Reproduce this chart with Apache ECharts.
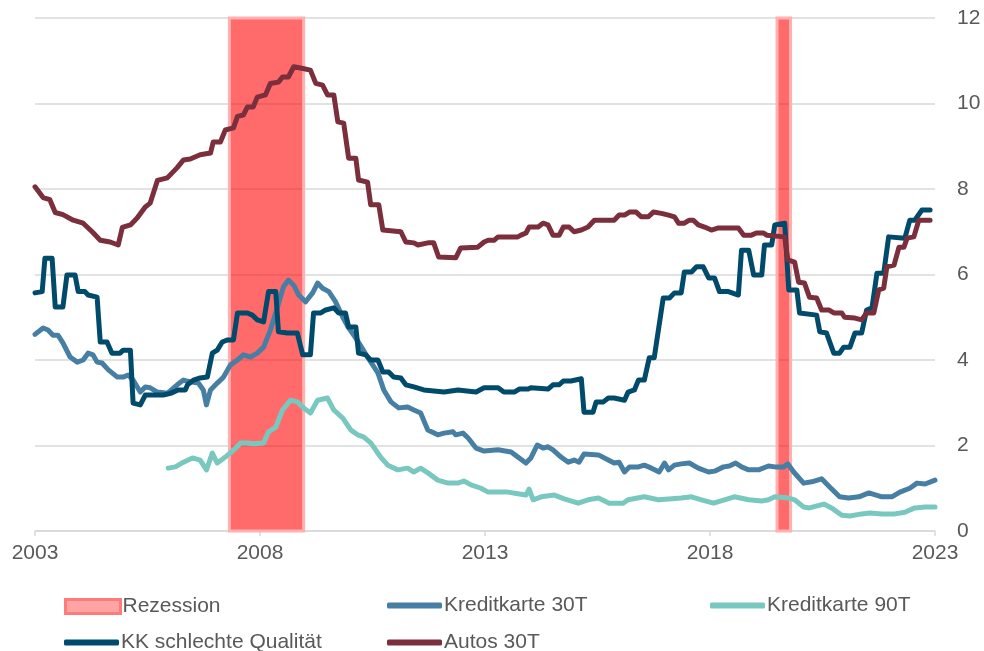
<!DOCTYPE html>
<html><head><meta charset="utf-8">
<script src="https://cdn.jsdelivr.net/npm/echarts@6/dist/echarts.min.js"></script>
<style>html,body{margin:0;padding:0;background:#fff}#c{width:984px;height:651px}</style>
</head><body><div id="c"></div>
<script>
// Recession periods (decimal years)
const recessions = [[2007.32, 2008.97], [2019.49, 2019.79]];
const xTicks = [2003, 2008, 2013, 2018, 2023];
const seriesNames = ['Rezession', 'Kreditkarte 30T', 'Kreditkarte 90T', 'KK schlechte Qualität', 'Autos 30T'];

const kk30 = [[2003.00,4.6],[2003.04,4.63],[2003.18,4.75],[2003.29,4.7],[2003.40,4.58],[2003.51,4.58],[2003.62,4.4],[2003.78,4.07],[2003.94,3.95],[2004.07,4.0],[2004.18,4.16],[2004.29,4.12],[2004.38,3.95],[2004.49,3.93],[2004.63,3.77],[2004.83,3.6],[2004.96,3.6],[2005.07,3.65],[2005.18,3.53],[2005.34,3.25],[2005.45,3.37],[2005.56,3.35],[2005.72,3.25],[2005.94,3.22],[2006.16,3.42],[2006.30,3.53],[2006.45,3.49],[2006.63,3.46],[2006.74,3.3],[2006.81,2.95],[2006.90,3.3],[2007.05,3.46],[2007.19,3.6],[2007.34,3.88],[2007.50,4.0],[2007.63,4.12],[2007.79,4.07],[2007.94,4.16],[2008.08,4.3],[2008.23,4.7],[2008.39,5.24],[2008.52,5.71],[2008.63,5.87],[2008.75,5.75],[2008.86,5.52],[2009.01,5.36],[2009.17,5.57],[2009.28,5.8],[2009.39,5.68],[2009.53,5.6],[2009.68,5.36],[2009.84,5.0],[2009.97,4.75],[2010.17,4.45],[2010.39,4.07],[2010.62,3.7],[2010.75,3.3],[2010.91,3.02],[2011.08,2.88],[2011.28,2.9],[2011.42,2.83],[2011.57,2.76],[2011.73,2.36],[2011.95,2.25],[2012.09,2.29],[2012.29,2.32],[2012.35,2.25],[2012.51,2.29],[2012.62,2.18],[2012.80,1.94],[2012.98,1.87],[2013.29,1.9],[2013.58,1.85],[2013.73,1.73],[2013.91,1.59],[2014.02,1.71],[2014.16,2.01],[2014.29,1.94],[2014.40,1.97],[2014.51,1.9],[2014.69,1.73],[2014.85,1.61],[2014.98,1.66],[2015.09,1.61],[2015.20,1.8],[2015.52,1.78],[2015.74,1.66],[2015.87,1.59],[2015.98,1.61],[2016.10,1.38],[2016.21,1.5],[2016.41,1.5],[2016.54,1.54],[2016.70,1.47],[2016.87,1.38],[2016.99,1.59],[2017.08,1.43],[2017.21,1.54],[2017.36,1.57],[2017.54,1.59],[2017.74,1.47],[2017.97,1.38],[2018.10,1.4],[2018.30,1.5],[2018.43,1.52],[2018.57,1.59],[2018.70,1.5],[2018.86,1.43],[2019.08,1.43],[2019.30,1.52],[2019.44,1.5],[2019.64,1.5],[2019.73,1.57],[2019.86,1.38],[2020.08,1.12],[2020.26,1.15],[2020.48,1.22],[2020.66,1.03],[2020.88,0.8],[2021.08,0.77],[2021.31,0.8],[2021.53,0.89],[2021.82,0.8],[2022.04,0.8],[2022.22,0.91],[2022.44,1.0],[2022.60,1.12],[2022.78,1.1],[2023.00,1.19]];

const kk90 = [[2005.96,1.47],[2006.12,1.5],[2006.30,1.61],[2006.50,1.71],[2006.67,1.66],[2006.81,1.43],[2006.94,1.82],[2007.05,1.59],[2007.23,1.73],[2007.41,1.89],[2007.57,2.06],[2007.72,2.06],[2007.85,2.04],[2008.08,2.06],[2008.19,2.32],[2008.35,2.43],[2008.50,2.83],[2008.68,3.06],[2008.83,3.02],[2008.97,2.88],[2009.12,2.76],[2009.28,3.06],[2009.50,3.11],[2009.64,2.83],[2009.84,2.64],[2010.02,2.36],[2010.17,2.25],[2010.30,2.2],[2010.46,2.06],[2010.68,1.73],[2010.84,1.54],[2011.06,1.43],[2011.28,1.47],[2011.42,1.38],[2011.57,1.47],[2011.73,1.36],[2011.95,1.19],[2012.18,1.12],[2012.40,1.12],[2012.53,1.17],[2012.69,1.08],[2012.91,1.0],[2013.07,0.91],[2013.51,0.91],[2013.73,0.87],[2013.91,0.84],[2013.98,0.98],[2014.07,0.73],[2014.25,0.8],[2014.54,0.84],[2014.76,0.75],[2015.07,0.65],[2015.29,0.73],[2015.52,0.77],[2015.76,0.65],[2016.07,0.65],[2016.18,0.73],[2016.54,0.8],[2016.85,0.73],[2017.08,0.75],[2017.36,0.77],[2017.59,0.8],[2017.81,0.73],[2018.08,0.65],[2018.32,0.73],[2018.54,0.8],[2018.86,0.73],[2019.15,0.7],[2019.30,0.73],[2019.44,0.8],[2019.75,0.77],[2019.88,0.73],[2020.08,0.56],[2020.21,0.54],[2020.53,0.63],[2020.70,0.54],[2020.93,0.37],[2021.11,0.35],[2021.37,0.4],[2021.55,0.42],[2021.82,0.4],[2022.11,0.4],[2022.33,0.44],[2022.55,0.54],[2022.78,0.56],[2023.00,0.56]];

const kkBad = [[2003.00,5.57],[2003.16,5.6],[2003.22,6.38],[2003.38,6.38],[2003.45,5.24],[2003.62,5.24],[2003.71,5.99],[2003.89,5.99],[2003.96,5.6],[2004.11,5.6],[2004.18,5.52],[2004.38,5.47],[2004.45,4.42],[2004.60,4.42],[2004.71,4.16],[2004.89,4.16],[2004.96,4.23],[2005.12,4.23],[2005.18,2.99],[2005.34,2.95],[2005.45,3.18],[2005.85,3.18],[2006.01,3.22],[2006.18,3.3],[2006.34,3.3],[2006.39,3.42],[2006.52,3.53],[2006.67,3.58],[2006.83,3.6],[2006.94,4.16],[2007.05,4.23],[2007.16,4.42],[2007.28,4.47],[2007.41,4.47],[2007.50,5.1],[2007.72,5.1],[2007.83,5.05],[2007.94,4.94],[2008.08,4.89],[2008.19,5.6],[2008.35,5.6],[2008.41,4.66],[2008.61,4.63],[2008.83,4.63],[2008.95,4.12],[2009.12,4.12],[2009.19,5.1],[2009.35,5.1],[2009.46,5.17],[2009.64,5.22],[2009.75,5.1],[2009.90,5.1],[2009.97,4.77],[2010.13,4.77],[2010.19,4.16],[2010.35,4.12],[2010.46,4.0],[2010.62,4.0],[2010.73,3.72],[2010.86,3.72],[2010.97,3.6],[2011.13,3.58],[2011.24,3.42],[2011.42,3.37],[2011.64,3.3],[2012.09,3.25],[2012.40,3.3],[2012.80,3.25],[2012.98,3.35],[2013.29,3.35],[2013.42,3.25],[2013.65,3.25],[2013.76,3.32],[2013.96,3.32],[2014.02,3.35],[2014.40,3.32],[2014.51,3.42],[2014.65,3.42],[2014.74,3.51],[2014.91,3.51],[2015.14,3.56],[2015.20,2.78],[2015.40,2.78],[2015.47,3.02],[2015.63,3.02],[2015.74,3.11],[2015.87,3.11],[2016.10,3.06],[2016.18,3.25],[2016.32,3.3],[2016.41,3.53],[2016.54,3.53],[2016.65,4.05],[2016.76,4.05],[2016.96,5.45],[2017.10,5.45],[2017.21,5.57],[2017.36,5.57],[2017.43,6.06],[2017.59,6.06],[2017.70,6.18],[2017.85,6.18],[2017.97,5.92],[2018.10,5.92],[2018.21,5.6],[2018.41,5.6],[2018.63,5.52],[2018.70,6.57],[2018.86,6.57],[2018.97,5.99],[2019.15,5.99],[2019.21,6.69],[2019.37,6.69],[2019.44,7.16],[2019.66,7.2],[2019.75,5.64],[2019.93,5.64],[2019.99,5.1],[2020.37,5.05],[2020.44,4.66],[2020.59,4.63],[2020.75,4.16],[2020.88,4.16],[2020.97,4.3],[2021.11,4.3],[2021.22,4.63],[2021.37,4.63],[2021.48,5.17],[2021.60,5.22],[2021.71,6.03],[2021.86,6.03],[2021.97,6.88],[2022.33,6.85],[2022.44,7.27],[2022.55,7.27],[2022.71,7.51],[2022.89,7.51]];

const autos30 = [[2003.00,8.05],[2003.04,8.02],[2003.18,7.8],[2003.33,7.75],[2003.45,7.45],[2003.62,7.4],[2003.85,7.27],[2004.07,7.2],[2004.27,7.0],[2004.45,6.8],[2004.67,6.76],[2004.85,6.69],[2004.94,7.1],[2005.12,7.16],[2005.27,7.32],[2005.45,7.58],[2005.56,7.67],[2005.72,8.2],[2005.94,8.26],[2006.16,8.5],[2006.30,8.68],[2006.45,8.7],[2006.67,8.8],[2006.90,8.84],[2006.96,9.1],[2007.12,9.1],[2007.23,9.38],[2007.41,9.43],[2007.50,9.7],[2007.63,9.73],[2007.72,9.92],[2007.85,9.92],[2007.94,10.15],[2008.12,10.2],[2008.23,10.47],[2008.41,10.5],[2008.50,10.62],[2008.63,10.62],[2008.75,10.86],[2008.90,10.83],[2009.12,10.78],[2009.24,10.47],[2009.39,10.43],[2009.50,10.2],[2009.64,10.2],[2009.73,9.57],[2009.86,9.54],[2009.97,8.72],[2010.13,8.72],[2010.19,8.21],[2010.39,8.16],[2010.46,7.63],[2010.64,7.63],[2010.73,7.04],[2011.13,7.0],[2011.24,6.76],[2011.42,6.74],[2011.51,6.69],[2011.73,6.74],[2011.86,6.74],[2011.97,6.41],[2012.35,6.39],[2012.46,6.62],[2012.84,6.64],[2012.98,6.76],[2013.07,6.8],[2013.20,6.8],[2013.29,6.88],[2013.73,6.88],[2013.80,6.92],[2013.91,6.97],[2013.98,7.11],[2014.18,7.11],[2014.29,7.2],[2014.40,7.16],[2014.51,6.92],[2014.65,6.92],[2014.74,7.11],[2014.87,7.11],[2014.98,7.0],[2015.14,7.04],[2015.29,7.11],[2015.43,7.27],[2015.87,7.27],[2015.98,7.39],[2016.10,7.39],[2016.21,7.46],[2016.36,7.46],[2016.47,7.35],[2016.63,7.35],[2016.74,7.46],[2016.92,7.43],[2017.08,7.39],[2017.21,7.35],[2017.30,7.2],[2017.43,7.2],[2017.54,7.27],[2017.63,7.27],[2017.74,7.16],[2017.88,7.11],[2018.03,7.04],[2018.19,7.09],[2018.63,7.09],[2018.75,6.92],[2018.92,6.92],[2019.03,6.97],[2019.19,6.97],[2019.26,6.92],[2019.66,6.88],[2019.73,6.34],[2019.88,6.29],[2019.97,5.82],[2020.10,5.8],[2020.21,5.47],[2020.37,5.45],[2020.48,5.17],[2020.64,5.17],[2020.75,5.1],[2020.93,5.1],[2020.99,5.0],[2021.22,4.98],[2021.37,4.94],[2021.48,5.1],[2021.64,5.1],[2021.75,5.64],[2021.86,5.68],[2021.93,6.18],[2022.09,6.22],[2022.20,6.64],[2022.31,6.64],[2022.38,6.85],[2022.53,6.88],[2022.64,7.27],[2022.89,7.27]];

const colors = {
  'Kreditkarte 30T': '#467FA3',
  'Kreditkarte 90T': '#79C8C0',
  'KK schlechte Qualität': '#004B6C',
  'Autos 30T': '#7B2E3B'
};
const textColor = '#595959';
const FONT = 'Liberation Sans, Arial, sans-serif';

const chart = echarts.init(document.getElementById('c'), null, {renderer: 'canvas'});

function lineSeries(name, data) {
  return {
    name: name, type: 'line', data: data, showSymbol: false, symbol: 'none',
    lineStyle: {width: 5, color: colors[name], join: 'round', cap: 'round'},
    itemStyle: {color: colors[name]},
    silent: true, animation: false
  };
}

function legendAt(name, left, top, isRect) {
  const item = {name: name};
  if (isRect) {
    item.icon = 'rect';
    item.itemStyle = {color: '#FFA3A3', borderColor: '#FF7A7A', borderWidth: 3};
  } else {
    item.icon = 'roundRect';
  }
  return {
    data: [item], left: left, top: top, orient: 'horizontal',
    itemWidth: 55, itemHeight: isRect ? 14 : 6, itemGap: 0, padding: 0,
    selectedMode: false,
    textStyle: {color: textColor, fontSize: 21, fontFamily: FONT, padding: [0, 0, 0, -3]}
  };
}

chart.setOption({
  animation: false,
  backgroundColor: '#ffffff',
  grid: {left: 35, right: 49, top: 18, bottom: 120, containLabel: false},
  xAxis: {
    type: 'value', min: xTicks[0], max: xTicks[xTicks.length - 1], interval: 5,
    axisLine: {show: true, lineStyle: {color: '#D9D9D9', width: 1.5}},
    axisTick: {show: true, length: 5, lineStyle: {color: '#D9D9D9', width: 1.5}},
    axisLabel: {color: textColor, fontSize: 21, fontFamily: FONT, margin: 12,
      formatter: v => String(Math.round(v))},
    splitLine: {show: false}
  },
  yAxis: {
    type: 'value', position: 'right', min: 0, max: 12, interval: 2,
    axisLine: {show: false}, axisTick: {show: false},
    axisLabel: {color: textColor, fontSize: 21, fontFamily: FONT, margin: 22, align: 'left'},
    splitLine: {show: true, lineStyle: {color: '#D9D9D9', width: 1.5}}
  },
  legend: [
    legendAt(seriesNames[0], 64, 596, true),
    legendAt(seriesNames[1], 387, 595, false),
    legendAt(seriesNames[2], 710, 595, false),
    legendAt(seriesNames[3], 64, 632, false),
    legendAt(seriesNames[4], 387, 632, false)
  ],
  series: [
    {
      name: 'Rezession', type: 'line', data: [], silent: true,
      itemStyle: {color: '#FFA3A3'},
      markArea: {
        silent: true,
        itemStyle: {color: 'rgba(255,0,0,0.58)', borderColor: '#FFB0B0', borderWidth: 3},
        data: recessions.map(r => [{xAxis: r[0]}, {xAxis: r[1]}])
      }
    },
    lineSeries('Kreditkarte 30T', kk30),
    lineSeries('Kreditkarte 90T', kk90),
    lineSeries('KK schlechte Qualität', kkBad),
    lineSeries('Autos 30T', autos30)
  ]
});
</script></body></html>
